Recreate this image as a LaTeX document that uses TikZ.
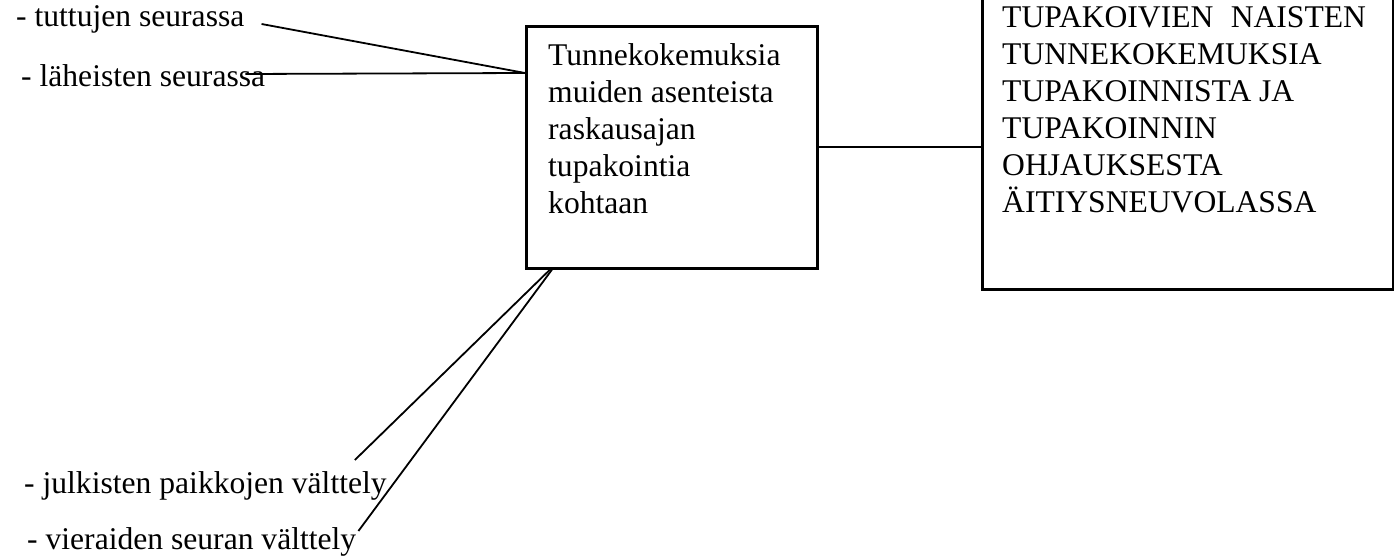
\documentclass[tikz,border=0pt]{standalone}
\usepackage{fontspec}
\setmainfont{Liberation Serif}
\usetikzlibrary{calc}
\begin{document}
\begin{tikzpicture}[x=1pt,y=-1pt,
  txt/.style={inner sep=0pt, font=\fontsize{31.6}{37}\selectfont},
  boxtxt/.style={txt, align=left, anchor=north west},
  lbl/.style={txt, anchor=base west},
  frame/.style={draw=black, line width=2.6pt, inner sep=0pt, anchor=north west},
  link/.style={draw=black, line width=1.8pt}]
\useasboundingbox (0,0) rectangle (1394,556);
\clip (0,0) rectangle (1394,556);
\fill[white] (0,0) rectangle (1394,556);
% boxes
\node[frame, minimum width=291pt, minimum height=242pt] (mid) at (525,25) {};
\node[frame, minimum width=411pt, minimum height=300pt] (goal) at (981,-12) {};
\node[boxtxt] (midtxt) at (548,43.5) {Tunnekokemuksia\\muiden asenteista\\raskausajan\\tupakointia\\kohtaan};
\node[boxtxt] (goaltxt) at (1002,6) {TUPAKOIVIEN\hspace{0.55em}NAISTEN\\TUNNEKOKEMUKSIA\\TUPAKOINNISTA JA\\TUPAKOINNIN\\OHJAUKSESTA\\ÄITIYSNEUVOLASSA};
% labels
\node[lbl] (tut) at (16,27) {- tuttujen seurassa};
\node[lbl] (lah) at (21,87) {- läheisten seurassa};
\node[lbl] (jul) at (24,493) {- julkisten paikkojen välttely};
\node[lbl] (vie) at (27,549) {- vieraiden seuran välttely};
% connection points
\coordinate (mleft) at ($(mid.north west)+(0,48)$);
\coordinate (mbot1) at ($(mid.south west)+(25,0)$);
\coordinate (mbot2) at ($(mid.south west)+(27,0)$);
\coordinate (tutend) at ($(tut.base east)+(17,-3)$);
\coordinate (lahend) at ($(lah.base east)+(-20,-13)$);
\coordinate (julend) at ($(jul.base east)+(-32,-33)$);
\coordinate (vieend) at ($(vie.base east)+(2,-18)$);
% connectors
\draw[link] (tutend) -- (mleft);
\draw[link] (lahend) -- (mleft);
\draw[link] (mbot1) -- (julend);
\draw[link] (mbot2) -- (vieend);
\draw[link] (mid.east) -- (mid.east -| goal.west);
\end{tikzpicture}
\end{document}
